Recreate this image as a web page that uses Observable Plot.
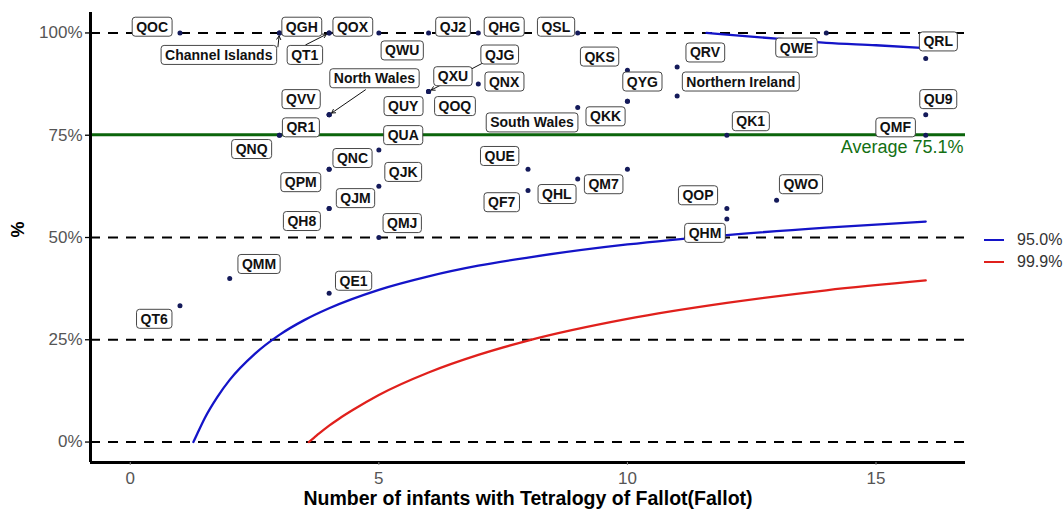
<!DOCTYPE html>
<html><head><meta charset="utf-8">
<script src="https://cdn.jsdelivr.net/npm/d3@7"></script>
<script src="https://cdn.jsdelivr.net/npm/@observablehq/plot@0.6"></script>
<style>
body{margin:0;background:#fff;font-family:"Liberation Sans",Arial,sans-serif;}
#wrap{position:relative;width:1063px;height:511px;}
#legend{position:absolute;left:984px;top:229px;font-size:16px;color:#333;}
.li{display:flex;align-items:center;height:22px;}
.sw{width:20px;height:2.5px;margin-right:13px;}
</style></head><body>
<div id="wrap"><div id="legend"></div></div>
<script>
// ---- data ----
const names = ["QOC","Channel Islands","QGH","QT1","QOX","QWU","QJ2","QHG","QSL","QWE",
  "QXU","QJG","QOQ","QNX","North Wales","QVV","QUY","QR1","QNQ","QUA",
  "QNC","QPM","QJK","QJM","QH8","QMJ","QMM","QE1","QT6","QKS",
  "QYG","QKK","South Wales","QRV","Northern Ireland","QRL","QU9","QMF","QK1","QUE",
  "QF7","QHL","QM7","QOP","QHM","QWO"];
const counts = [1,3,3,4,4,5,6,7,9,14,
  6,6,6,7,4,4,4,3,3,5,
  4,4,5,4,4,5,2,4,1,10,
  10,10,9,11,11,16,16,16,12,8,
  8,9,10,12,12,13];
const percents = [100,100,100,100,100,100,100,100,100,100,
  85.7,85.7,85.7,87.5,80,80,80,75,75,71.4,
  66.7,66.7,62.5,57.1,57.1,50,40,36.4,33.3,90.9,
  83.3,83.3,81.8,91.7,84.6,93.75,80,75,75,66.7,
  61.5,64.3,66.7,57.1,54.5,59.1];
// label placement (repelled label centres, data units)
const labelX = [0.44,1.78,3.45,3.51,4.47,5.47,6.49,7.52,8.56,13.4,
  6.49,7.43,6.53,7.52,4.91,3.43,5.49,3.43,2.44,5.49,
  4.47,3.43,5.49,4.53,3.45,5.47,2.59,4.49,0.48,9.44,
  10.3,9.56,8.08,11.56,12.28,16.25,16.25,15.39,12.48,7.43,
  7.47,8.58,9.52,11.42,11.56,13.49];
const labelY = [101.4,94.5,101.4,94.5,101.4,95.6,101.4,101.4,101.4,96.3,
  89.3,94.6,82.0,88.0,88.8,83.7,82.0,76.8,71.5,74.9,
  69.3,63.4,65.9,59.5,53.9,53.4,43.4,39.3,30.0,94.1,
  88.0,79.5,78.0,95.1,88.0,97.8,83.7,76.8,78.3,69.8,
  58.5,60.5,62.9,60.2,51.0,62.9];
// leader segments (label -> point)
const leaderNames = ["Channel Islands","QT1","North Wales","QJG"];
const leaderStartX = [2.97,3.53,4.73,7.13];
const leaderStartY = [96.6,97.1,86.1,92.9];

const average = 75.1;
const averageLabel = "Average 75.1%";
const refLines = [0,25,50,100];
const yTicks = [0,25,50,75,100];
const xTicks = [0,5,10,15];

// control limits
const lower95N = [1.27,1.35,1.5,1.75,2,2.5,3,3.5,4,5,6,7,8,10,12,14,16];
const lower95 = [0,2.1,5.9,11.0,15.2,21.5,26.2,29.8,32.7,37.2,40.5,43.1,45.1,48.3,50.6,52.4,53.9];
const upper95N = [11.59,12,13,14,15,16];
const upper95 = [100,99.6,98.6,97.6,97.0,96.3];
const lower999N = [3.59,3.7,3.8,4,4.2,4.5,5,6,7,8,10,12,14,16];
const lower999 = [0,1.1,2.1,4.0,5.7,8.0,11.5,17.0,21.3,24.8,30.1,34.0,37.1,39.5];

const legendLabels = ["95.0%","99.9%"];
const legendColors = ["#1414c8","#e0201c"];
const xTitle = "Number of infants with Tetralogy of Fallot(Fallot)";
const yTitle = "%";

// ---- build ----
const rows = names.map((n,i)=>({name:n, n:counts[i], pct:percents[i], lx:labelX[i], ly:labelY[i]}));
const byName = new Map(rows.map(r=>[r.name,r]));
const leaders = leaderNames.map((n,i)=>({x1:leaderStartX[i], y1:leaderStartY[i], x2:byName.get(n).n, y2:byName.get(n).pct}));
const l95 = lower95N.map((n,i)=>({n, v:lower95[i]}));
const u95 = upper95N.map((n,i)=>({n, v:upper95[i]}));
const l999 = lower999N.map((n,i)=>({n, v:lower999[i]}));
const xDomain = [-0.8,16.8], yDomain = [-5,105];

const plot = Plot.plot({
  width:1063, height:511, marginLeft:90, marginRight:98, marginTop:12, marginBottom:49,
  style:{fontFamily:"'Liberation Sans', Arial, sans-serif", background:"white"},
  x:{domain:xDomain, label:null},
  y:{domain:yDomain, label:null},
  marks:[
    Plot.ruleY(refLines, {stroke:"black", strokeWidth:2, strokeDasharray:"10,8"}),
    Plot.ruleY([average], {stroke:"#0b650b", strokeWidth:3}),
    Plot.line(l95, {x:"n", y:"v", stroke:legendColors[0], strokeWidth:2.3, curve:"monotone-x"}),
    Plot.line(u95, {x:"n", y:"v", stroke:legendColors[0], strokeWidth:2.3, curve:"monotone-x"}),
    Plot.line(l999, {x:"n", y:"v", stroke:legendColors[1], strokeWidth:2.3, curve:"monotone-x"}),
    Plot.dot(rows, {x:"n", y:"pct", r:2.5, fill:"#141a5a", stroke:"none"}),
    Plot.arrow(leaders, {x1:"x1", y1:"y1", x2:"x2", y2:"y2", stroke:"#111", strokeWidth:1, headLength:6, insetEnd:3}),
    Plot.text(rows, {x:"lx", y:"ly", text:"name", fontWeight:"bold", fontSize:14, fill:"#111"}),
    Plot.text([averageLabel], {x:xDomain[1], y:average, textAnchor:"end", dx:-2, dy:12, fill:"#137013", fontSize:18}),
    Plot.ruleX([xDomain[0]], {stroke:"black", strokeWidth:3}),
    Plot.ruleY([yDomain[0]], {stroke:"black", strokeWidth:3}),
    Plot.axisY(yTicks, {tickFormat:d=>d+"%", tickSize:5, tickPadding:3, fontSize:17, color:"#555", stroke:"black", strokeWidth:1.3, label:null}),
    Plot.axisX(xTicks, {tickSize:3, tickPadding:6, fontSize:17, color:"#555", stroke:"#888", label:null}),
    Plot.text([yTitle], {frameAnchor:"left", dx:-72, rotate:-90, fontWeight:"bold", fontSize:18, fill:"black"}),
    Plot.text([xTitle], {frameAnchor:"bottom", lineAnchor:"middle", dy:36, fontWeight:"bold", fontSize:19.5, fill:"black"})
  ]
});
document.getElementById("wrap").prepend(plot);

// boxed labels (like ggrepel label_repel)
const NS = "http://www.w3.org/2000/svg";
const nameSet = new Set(names);
plot.querySelectorAll("text").forEach(t=>{
  if (!nameSet.has(t.textContent)) return;
  const b = t.getBBox();
  const r = document.createElementNS(NS,"rect");
  r.setAttribute("x", b.x-4); r.setAttribute("y", b.y-1.5);
  r.setAttribute("width", b.width+8); r.setAttribute("height", b.height+3);
  r.setAttribute("rx", 3); r.setAttribute("fill","white");
  r.setAttribute("stroke","#333"); r.setAttribute("stroke-width","0.9");
  const tr = t.getAttribute("transform"); if (tr) r.setAttribute("transform", tr);
  t.parentNode.insertBefore(r, t);
});

// legend
const leg = document.getElementById("legend");
legendLabels.forEach((lab,i)=>{
  const d = document.createElement("div"); d.className="li";
  const s = document.createElement("div"); s.className="sw"; s.style.background=legendColors[i];
  const t = document.createElement("span"); t.textContent=lab;
  d.appendChild(s); d.appendChild(t); leg.appendChild(d);
});
</script>
</body></html>
